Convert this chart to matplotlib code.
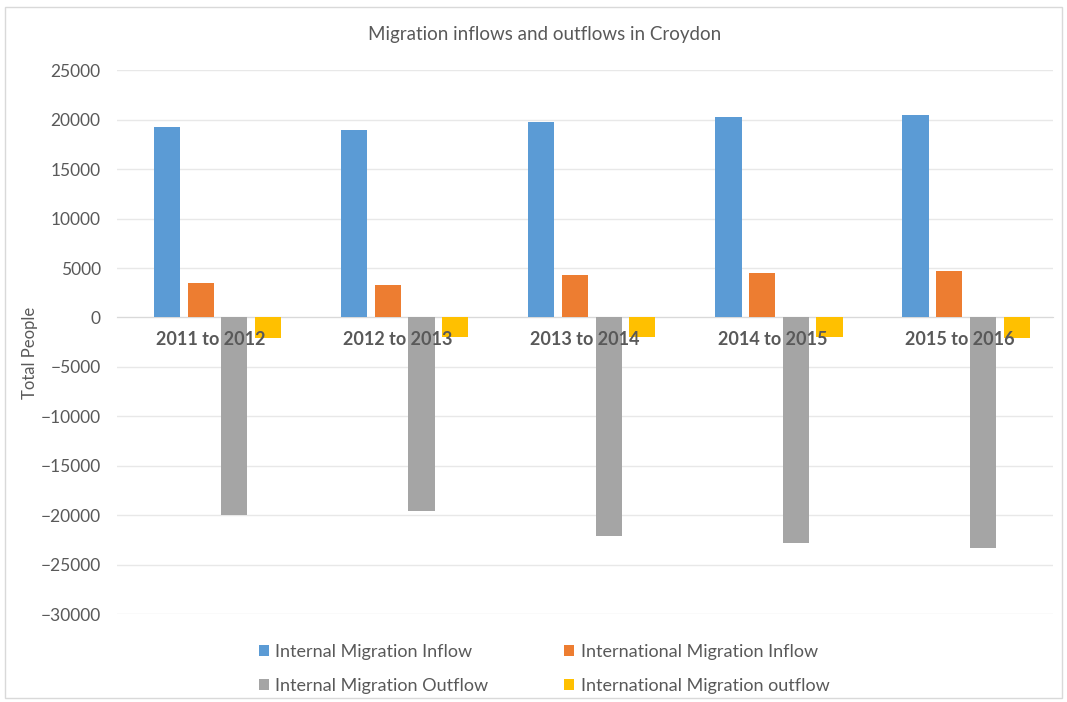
import numpy as np
import matplotlib
matplotlib.use("Agg")
import matplotlib.pyplot as plt
from matplotlib.patches import Rectangle

plt.rcParams['font.family'] = ['Lato', 'DejaVu Sans']

periods = ["2011 to 2012", "2012 to 2013", "2013 to 2014", "2014 to 2015", "2015 to 2016"]
internal_in = [19300, 19000, 19800, 20300, 20500]
international_in = [3500, 3250, 4250, 4500, 4700]
internal_out = [-20000, -19600, -22100, -22800, -23300]
international_out = [-2050, -2000, -2000, -2000, -2050]

series = [
    ("Internal Migration Inflow", internal_in, "#5B9BD5"),
    ("International Migration Inflow", international_in, "#ED7D31"),
    ("Internal Migration Outflow", internal_out, "#A5A5A5"),
    ("International Migration outflow", international_out, "#FFC000"),
]

txt = "#595959"
fig = plt.figure(figsize=(10.67, 7.02), dpi=100)
ax = fig.add_axes([0.11, 0.125, 0.877, 0.775])

x = np.arange(len(periods))
step = 0.18
w = 0.14
bars = []
for i, (name, vals, col) in enumerate(series):
    b = ax.bar(x + (i - 1.5) * step + 0.035, vals, w, color=col, label=name, zorder=3)
    bars.append(b)

ax.set_xlim(-0.5, len(periods) - 0.5)
ax.set_ylim(-30000, 25000)
ax.set_yticks(np.arange(-30000, 25001, 5000))
ax.yaxis.grid(True, color="#e8e8e8", linewidth=1, zorder=0)
ax.set_axisbelow(True)
for s in ["top", "right", "left"]:
    ax.spines[s].set_visible(False)
ax.spines["bottom"].set_position(("data", 0))
ax.spines["bottom"].set_color("#d9d9d9")
ax.set_xticks(x)
ax.set_xticklabels([])
ax.tick_params(axis="x", length=0)
for xi, p in zip(x, periods):
    ax.annotate(p, xy=(xi, 0), xytext=(0, -10), textcoords="offset points",
                ha="center", va="top", fontsize=13, fontweight="bold",
                color=txt, zorder=5)
ax.tick_params(axis="y", length=0, labelsize=12.5, labelcolor=txt, pad=12)
ax.set_ylabel("Total People", fontsize=12, color=txt, labelpad=0)
ax.yaxis.set_label_coords(-0.085, 0.48)

fig.text(0.51, 0.951, "Migration inflows and outflows in Croydon", ha="center", va="center",
         fontsize=13.5, color=txt)

order = [bars[0], bars[2], bars[1], bars[3]]
leg = fig.legend(order, [b.get_label() for b in order], loc="center",
                 bbox_to_anchor=(0.51, 0.047), ncol=2, frameon=False,
                 fontsize=13, handlelength=0.55, handleheight=0.55,
                 columnspacing=4.2, labelspacing=1.0, handletextpad=0.35)
for t in leg.get_texts():
    t.set_color(txt)

fig.patches.append(Rectangle((0.005, 0.005), 0.99, 0.985, transform=fig.transFigure,
                             fill=False, edgecolor="#d9d9d9", linewidth=1))

fig.savefig("out.png", dpi=100)
